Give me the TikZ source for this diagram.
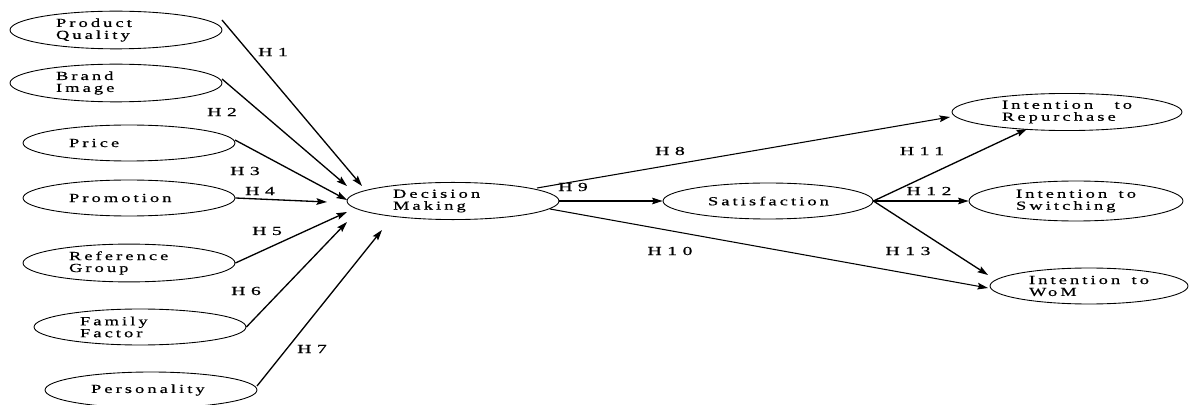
\documentclass[tikz,border=0pt]{standalone}
\usepackage{fontspec}
\newfontfamily\spacedfont[LetterSpace=25,FakeStretch=1.5,FakeBold=0.6]{Liberation Serif}
\newfontfamily\hypfont[LetterSpace=45,FakeStretch=1.6,FakeBold=0.8]{Liberation Serif}
\usetikzlibrary{shapes.geometric,arrows.meta,positioning}

\begin{document}
\begin{tikzpicture}[
    x=0.02cm, y=-0.02cm,
    every node/.style = {font=\spacedfont\fontsize{7}{6.8}\selectfont},
    construct/.style = {draw, ellipse, line width=0.5pt, minimum width=4.24cm,
      minimum height=0.72cm, inner sep=1pt, text width=2.4cm, align=left},
    hyp/.style = {font=\hypfont\fontsize{7}{7}\selectfont, inner sep=0pt},
    >={Stealth[length=6pt,width=3.8pt,inset=1pt]},
    path/.style = {->, line width=0.75pt}
  ]
  \useasboundingbox (0,0) rectangle (1190,405);

  % independent variables
  \node[construct] (pq) at (116,30) {Product\\Quality};
  \node[construct] (bi) at (116,83) {Brand\\Image};
  \node[construct] (pr) at (129,143) {Price};
  \node[construct] (pm) at (129,198) {Promotion};
  \node[construct] (rg) at (129,263) {Reference\\Group};
  \node[construct] (ff) at (140,327) {Family\\Factor};
  \node[construct] (ps) at (151,390) {Personality};

  % mediators
  \node[construct] (dm) at (453,201) {Decision\\Making};
  \node[construct, minimum width=4.2cm] (sat) at (768,201) {Satisfaction};

  % outcomes
  \node[construct, minimum width=4.6cm, minimum height=0.74cm, text width=2.6cm] (rp) at (1067,112) {Intention \hfill to\\Repurchase};
  \node[construct, minimum width=4.28cm, minimum height=0.8cm] (sw) at (1076,201) {Intention \hfill to\\Switching};
  \node[construct, minimum width=3.96cm, text width=2.4cm] (wm) at (1089,286) {Intention \hfill to\\WoM};

  % hypotheses
  \draw[path] ([shift={(106,-10)}]pq.center) -- ([shift={(-91,-15)}]dm.center);
  \draw[path] ([shift={(106,-4)}]bi.center) -- ([shift={(-106,-15)}]dm.center);
  \draw[path] ([shift={(106,-3)}]pr.center) -- ([shift={(-106,-1)}]dm.center);
  \draw[path] (pm.east) -- ([shift={(-126,1)}]dm.center);
  \draw[path] (rg.east) -- ([shift={(-106,11)}]dm.center);
  \draw[path] (ff.east) -- ([shift={(-106,21)}]dm.center);
  \draw[path] ([shift={(106,-4)}]ps.center) -- ([shift={(-71,29)}]dm.center);

  \draw[path, line width=0.6pt] ([shift={(84,-13)}]dm.center) -- ([shift={(-117,5)}]rp.center);
  \draw[path, line width=0.6pt] (dm.east) -- (sat.west);
  \draw[path, line width=0.6pt] ([shift={(97,8)}]dm.center) -- ([shift={(-101,2)}]wm.center);
  \draw[path] (sat.east) -- ([shift={(-40,17)}]rp.center);
  \draw[path, line width=0.6pt] (sat.east) -- (sw.west);
  \draw[path] (sat.east) -- ([shift={(-101,-11)}]wm.center);

  % labels
  \node[hyp] (h1) at (273,52) {H1};
  \node[hyp] (h2) at (222,112) {H2};
  \node[hyp] (h3) at (245,171) {H3};
  \node[hyp] (h4) at (260,191) {H4};
  \node[hyp] (h5) at (267,231) {H5};
  \node[hyp] (h6) at (246,291) {H6};
  \node[hyp] (h7) at (312,349) {H7};
  \node[hyp] (h8) at (670,151) {H8};
  \node[hyp] (h9) at (573,187) {H9};
  \node[hyp] (h10) at (670,251) {H10};
  \node[hyp] (h11) at (922,151) {H11};
  \node[hyp] (h12) at (929,191) {H12};
  \node[hyp] (h13) at (908,251) {H13};
\end{tikzpicture}
\end{document}
